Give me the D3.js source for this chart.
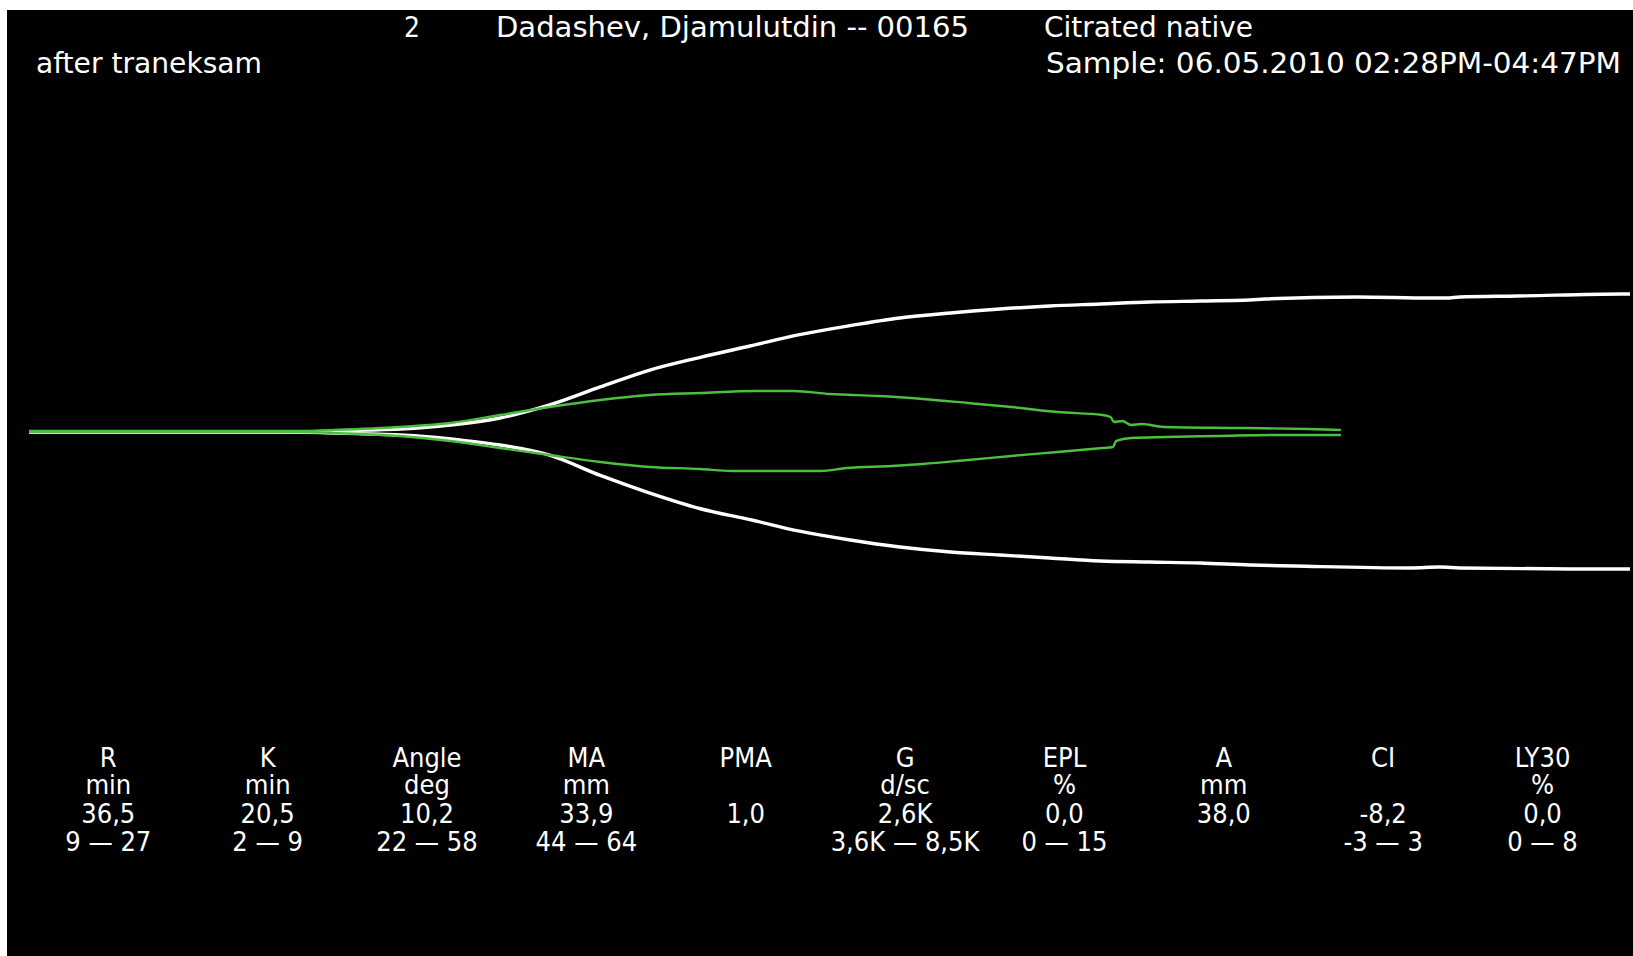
<!DOCTYPE html>
<html>
<head>
<meta charset="utf-8">
<script src="https://cdn.jsdelivr.net/npm/d3@7"></script>
<style>
  html, body { margin: 0; padding: 0; background: #fff; }
  svg { display: block; }
  text { font-family: "DejaVu Sans Condensed", "DejaVu Sans", sans-serif; fill: #fff; }
</style>
</head>
<body>
<script>
// Channel 2 tracing: time in minutes, deflection from baseline in mm (+ upper jaw, - lower jaw)
const whiteTop = [[0,0],[23.5,0],[26.4,0.14],[29.6,0.28],[32.2,0.41],[34.8,0.69],[37.4,1.10],[40.9,1.93],[45.2,3.73],[49.6,6.22],[53.9,8.56],[58.3,10.32],[62.6,11.88],[66.9,13.44],[71.3,14.70],[75.6,15.75],[80.0,16.44],[84.3,16.99],[88.6,17.40],[93.0,17.68],[97.3,17.96],[101.7,18.09],[106.0,18.23],[107.3,18.37],[115.3,18.65],[121.6,18.51],[123.1,18.51],[124.2,18.65],[129.2,18.78],[138.3,19.06],[139,19.06]];
const whiteBottom = [[0,0],[23.5,0],[26.4,-0.14],[29.6,-0.28],[32.2,-0.41],[34.8,-0.69],[37.4,-1.10],[40.9,-1.80],[45.2,-3.20],[49.6,-6.00],[53.9,-8.43],[58.3,-10.60],[62.6,-12.10],[66.9,-13.70],[71.3,-14.92],[75.6,-15.88],[80.0,-16.57],[84.3,-16.99],[88.6,-17.40],[93.0,-17.82],[97.3,-17.96],[101.7,-18.09],[106.0,-18.37],[109.9,-18.51],[119.9,-18.78],[122.5,-18.65],[124.2,-18.78],[133.8,-18.92],[139,-18.92]];
const greenTop = [[0,0.14],[23.5,0.14],[26.4,0.28],[32.2,0.69],[36.6,1.24],[40.9,2.35],[45.2,3.45],[49.6,4.42],[53.9,5.11],[58.3,5.39],[63.0,5.66],[66.4,5.66],[69.5,5.25],[73.8,4.97],[77.6,4.56],[81.5,4.01],[85.3,3.45],[89.3,2.76],[93.2,2.35],[93.9,2.07],[94.2,1.38],[94.9,1.52],[95.7,0.97],[96.6,1.10],[98.5,0.69],[105.3,0.55],[111.1,0.41],[113.9,0.28]];
const greenBottom = [[0,0],[23.5,0],[26.4,-0.14],[32.2,-0.55],[36.6,-1.24],[40.9,-2.21],[45.2,-3.18],[49.6,-4.14],[53.9,-4.83],[58.3,-5.11],[61.0,-5.39],[68.7,-5.39],[71.0,-4.97],[74.9,-4.70],[77.6,-4.42],[81.5,-3.87],[85.3,-3.31],[89.3,-2.76],[93.2,-2.21],[94.1,-2.07],[94.4,-1.24],[95.7,-0.83],[98.7,-0.69],[103.4,-0.55],[107.8,-0.41],[113.9,-0.41]];

// Result table
const paramNames  = ["R", "K", "Angle", "MA", "PMA", "G", "EPL", "A", "CI", "LY30"];
const paramUnits  = ["min", "min", "deg", "mm", "", "d/sc", "%", "mm", "", "%"];
const paramValues = ["36,5", "20,5", "10,2", "33,9", "1,0", "2,6K", "0,0", "38,0", "-8,2", "0,0"];
const paramRanges = ["9 \u2014 27", "2 \u2014 9", "22 \u2014 58", "44 \u2014 64", "", "3,6K \u2014 8,5K", "0 \u2014 15", "", "-3 \u2014 3", "0 \u2014 8"];

// Header
const channel = "2";
const patient = "Dadashev, Djamulutdin -- 00165";
const sampleType = "Citrated native";
const note = "after traneksam";
const sampleTime = "Sample: 06.05.2010 02:28PM-04:47PM";

const W = 1633, H = 956;
const svg = d3.select("body").append("svg").attr("width", W).attr("height", H);

svg.append("rect").attr("x", 7).attr("y", 10).attr("width", W - 7).attr("height", H - 10).attr("fill", "#000");

const x = d3.scaleLinear().domain([0, 139]).range([29, 1630]);
const y = d3.scaleLinear().domain([-20, 20]).range([432 + 144.8, 432 - 144.8]);

const line = d3.line().x(d => x(d[0])).y(d => y(d[1])).curve(d3.curveMonotoneX);

const traces = [
  { data: whiteTop, color: "#ffffff", width: 3.4 },
  { data: whiteBottom, color: "#ffffff", width: 3.4 },
  { data: greenTop, color: "#4cbf3f", width: 2.4 },
  { data: greenBottom, color: "#4cbf3f", width: 2.4 }
];
svg.append("g").selectAll("path").data(traces).join("path")
  .attr("d", d => line(d.data))
  .attr("fill", "none")
  .attr("stroke", d => d.color)
  .attr("stroke-width", d => d.width)
  .attr("stroke-linejoin", "round");

// Header text, fitted to the header layout widths
const fs = 28;
const header = [
  { t: channel, x: 404, y: 37, w: null },
  { t: patient, x: 496, y: 37, w: 473 },
  { t: sampleType, x: 1044, y: 37, w: 209 },
  { t: note, x: 36, y: 73, w: 226 },
  { t: sampleTime, x: 1046, y: 73, w: 575 }
];
svg.append("g").selectAll("text").data(header).join("text")
  .attr("x", d => d.x).attr("y", d => d.y)
  .attr("font-size", fs)
  .each(function(d) { if (d.w) d3.select(this).attr("textLength", d.w).attr("lengthAdjust", "spacingAndGlyphs"); })
  .text(d => d.t);

// Parameter columns
const col = d3.scalePoint().domain(paramNames).range([108.3, 1542.5]);
const rowY = [766.5, 793.6, 822.8, 851];
const rows = [paramNames, paramUnits, paramValues, paramRanges];
const table = svg.append("g").attr("text-anchor", "middle").attr("font-size", 27);
rows.forEach((row, ri) => {
  table.append("g").selectAll("text").data(row.map((t, i) => ({ t, k: paramNames[i] }))).join("text")
    .attr("x", d => col(d.k)).attr("y", rowY[ri])
    .text(d => d.t);
});
</script>
</body>
</html>
